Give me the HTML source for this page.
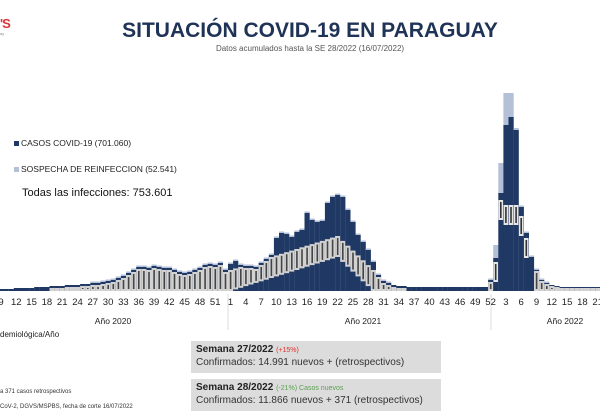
<!DOCTYPE html>
<html><head><meta charset="utf-8"><style>
body{margin:0;width:600px;height:417px;overflow:hidden;background:#fff;font-family:"Liberation Sans",sans-serif;position:relative}
.a{position:absolute;white-space:nowrap}
.box{position:absolute;left:191px;width:250px;background:#dcdcdc}
</style></head><body>
<div class="a" style="left:0;top:16px;font:bold 13px 'Liberation Sans';color:#d9343a;letter-spacing:-1px">'S</div>
<div class="a" style="left:0;top:31px;font:4px 'Liberation Sans';color:#888">ay</div>
<div class="a" style="left:0;width:620px;top:19px;text-align:center;font:bold 21px 'Liberation Sans';color:#1f3357">SITUACIÓN COVID-19 EN PARAGUAY</div>
<div class="a" style="left:0;width:620px;top:44px;text-align:center;font:8px 'Liberation Sans';color:#555">Datos acumulados hasta la SE 28/2022 (16/07/2022)</div>
<div class="a" style="left:14px;top:138px;font:8.5px 'Liberation Sans';color:#222"><span style="display:inline-block;width:5px;height:5px;background:#1f3864;margin-right:2px"></span>CASOS COVID-19 (701.060)</div>
<div class="a" style="left:14px;top:164px;font:8.5px 'Liberation Sans';color:#222"><span style="display:inline-block;width:5px;height:5px;background:#b4bfd8;margin-right:2px"></span>SOSPECHA DE REINFECCION (52.541)</div>
<div class="a" style="left:22px;top:187px;font:11px 'Liberation Sans';color:#111">Todas las infecciones: 753.601</div>
<svg class="a" style="left:0;top:0" width="600" height="417" id="s"></svg>
<div class="a" style="left:0;top:330px;font:8px 'Liberation Sans';color:#222">demiológica/Año</div>
<div class="a" style="left:0;top:389px;font:6px 'Liberation Sans';color:#333">a 371 casos retrospectivos</div>
<div class="a" style="left:0;top:404px;font:6px 'Liberation Sans';color:#333">CoV-2, DGVS/MSPBS, fecha de corte 16/07/2022</div>
<div class="box" style="top:341px;height:32px"></div>
<div class="box" style="top:379px;height:32px"></div>
<div class="a" style="left:196px;top:344px;font:bold 10px 'Liberation Sans';color:#222">Semana 27/2022 <span style="font:normal 7px 'Liberation Sans';color:#e03030">(+15%)</span></div>
<div class="a" style="left:196px;top:357px;font:10px 'Liberation Sans';color:#333">Confirmados: 14.991 nuevos + (retrospectivos)</div>
<div class="a" style="left:196px;top:382px;font:bold 10px 'Liberation Sans';color:#222">Semana 28/2022 <span style="font:normal 7px 'Liberation Sans';color:#5aa050">(-21%) Casos nuevos</span></div>
<div class="a" style="left:196px;top:395px;font:10px 'Liberation Sans';color:#333">Confirmados: 11.866 nuevos + 371 (retrospectivos)</div>
<script>
var T=[289,289,289,288,288,288,288,287,287,287,286,286,286,285,285,285,284,284,283,283,282,281,280,278,276,273,270,267,267,268,266,267,268,268,270,272,273,272,270,268,265,264,265,263,270];
var n20=T.length;
var t21=[264,261,265,266,266,267,263,259,255,238,233,234,237,232,230,213,220,222,221,203,197,195,197,210,222,235,242,250,262,275,281,283,285,286,286];
while(t21.length<51)t21.push(287);t21.push(280);
T=T.concat(t21);
var t22=[258,193,125,117,130,207,233,257,270,280,283,285,286];
while(t22.length<28)t22.push(287);
T=T.concat(t22);
var L={};L[n20+52]=245;L[n20+53]=163;L[n20+54]=93;L[n20+55]=93;L[n20+56]=128;
var B=291,h='';
function r(x,y,w,hh,c){if(hh>0)h+='<rect x="'+x.toFixed(1)+'" y="'+y.toFixed(1)+'" width="'+w+'" height="'+hh.toFixed(1)+'" fill="'+c+'"/>';}
for(var i=0;i<T.length;i++){
 var x=1+i*5.1-2.5,t=T[i];
 if(L[i]){r(x,L[i],5.2,t-L[i],'#b4bfd8');}
 else if(t<284) r(x,t-1.5,5.2,1.5,'#b4bfd8');
 r(x,t,5.2,B-t,'#1f3864');
 var bt,bb;
 if(i<n20){bt=t+2;bb=B;}
 else if(i<n20+52){var w=i-n20+1,D;
  if(w<=22)D=291-(w-1)*34/21;else if(w<=29)D=257+(w-22)*34/7;else D=291;
  bb=D;bt=Math.max(t+2,D-21);if(w>=29){bt=Math.max(t+1,bt);bb=B;}
 } else {var w=i-n20-51;
  if(w<=8){bt=0;bb=0;} else {bt=t+1;bb=B;}}
 if(bb-bt>2){r(x,bt,5.2,bb-bt,'#d2d2d2');r(x+1.8,bt+2,1.6,bb-bt-4,'#444');}
}
// spike labels
[[n20+52,262],[n20+53,200],[n20+54,205],[n20+55,205],[n20+56,205],[n20+57,216],[n20+58,238]].forEach(function(p){r(1+p[0]*5.1-2.3,p[1],4.6,20,'#e6e6e6');r(1+p[0]*5.1-0.8,p[1]+2,1.6,16,'#333');});
h+='<line x1="228" y1="294" x2="228" y2="330" stroke="#ddd"/><line x1="491" y1="294" x2="491" y2="330" stroke="#ddd"/>';
var lab='';
function tl(x,s){lab+='<text x="'+x.toFixed(1)+'" y="305" font-size="9.5" text-anchor="middle" fill="#222" font-family="Liberation Sans">'+s+'</text>';}
for(var w=9;w<=51;w+=3)tl(1+(w-9)*5.1,w);
for(var w=1;w<=52;w+=3)tl(1+(n20+w-1)*5.1,w);
for(var w=3;w<=21;w+=3)tl(1+(n20+51+w)*5.1,w);
lab+='<text x="113" y="324" font-size="8.5" text-anchor="middle" fill="#222" font-family="Liberation Sans">Año 2020</text><text x="363" y="324" font-size="8.5" text-anchor="middle" fill="#222" font-family="Liberation Sans">Año 2021</text><text x="565" y="324" font-size="8.5" text-anchor="middle" fill="#222" font-family="Liberation Sans">Año 2022</text>';
document.getElementById('s').innerHTML=h+lab;
</script>
</body></html>
